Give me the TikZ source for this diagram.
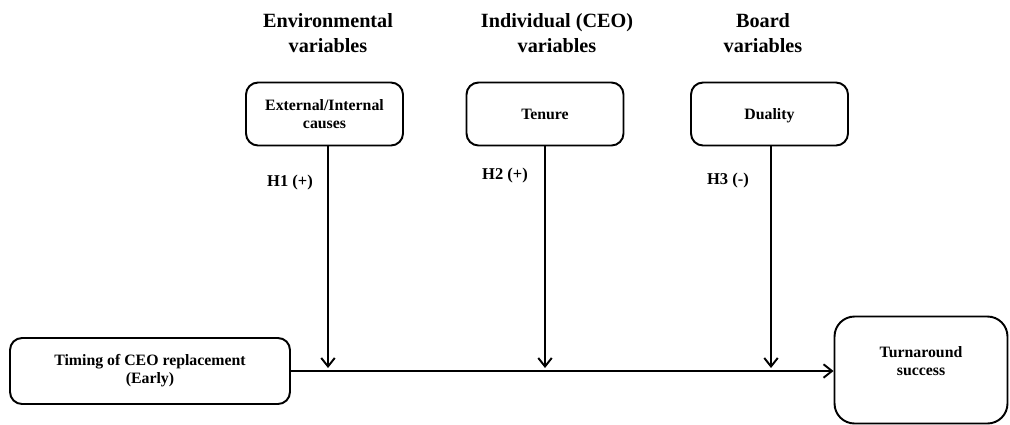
\documentclass[tikz,border=0pt]{standalone}
\usepackage{fontspec}
\setmainfont{Liberation Serif}
\usetikzlibrary{arrows.meta,positioning}

\begin{document}
\begin{tikzpicture}[
    x=0.02cm, y=-0.02cm,
    title/.style={align=center, font=\fontsize{11.5}{14}\selectfont\bfseries},
    box/.style={draw, line width=1.1pt, rounded corners=0.24cm, align=center,
                minimum width=3.14cm, minimum height=1.26cm,
                font=\fontsize{9}{10.3}\selectfont\bfseries},
    hyp/.style={font=\fontsize{9.4}{11}\selectfont\bfseries},
    flow/.style={draw, line width=1.1pt,
                 -{Straight Barb[length=1.7mm,width=2.7mm,line width=1.1pt]}}
  ]
    \useasboundingbox (0,0) rectangle (1010,424);

    \node[title] (envtitle) at (328,33) {Environmental\\variables};
    \node[title] (ceotitle) at (557,33) {Individual (CEO)\\variables};
    \node[title] (boardtitle) at (763,33) {Board\\variables};

    \node[box] (causes) at (324.5,114) {External/Internal\\causes};
    \node[box] (tenure) at (545,114) {Tenure};
    \node[box, text height=1.6ex, text depth=0.2ex] (duality) at (769.5,114) {Duality};

    \node[box, minimum width=5.6cm, minimum height=1.32cm] (timing) at (150,371)
      {Timing of CEO replacement\\(Early)};
    \node[box, rounded corners=0.4cm, minimum width=3.46cm, minimum height=2.14cm,
          text depth=0.35cm] (success) at (921,370) {Turnaround\\success};

    \coordinate (j1) at (328,368);
    \coordinate (j2) at (545,368);
    \coordinate (j3) at (771,368);

    \node[hyp] (h1) at (290,183) {H1 (+)};
    \node[hyp] (h2) at (505,176) {H2 (+)};
    \node[hyp] (h3) at (728,181) {H3 (-)};

    \draw[flow] (causes.south -| j1) -- (j1);
    \draw[flow] (tenure.south -| j2) -- (j2);
    \draw[flow] (duality.south -| j3) -- (j3);
    \draw[flow] (timing.east) -- (success.west |- timing.east);
  \end{tikzpicture}
\end{document}
